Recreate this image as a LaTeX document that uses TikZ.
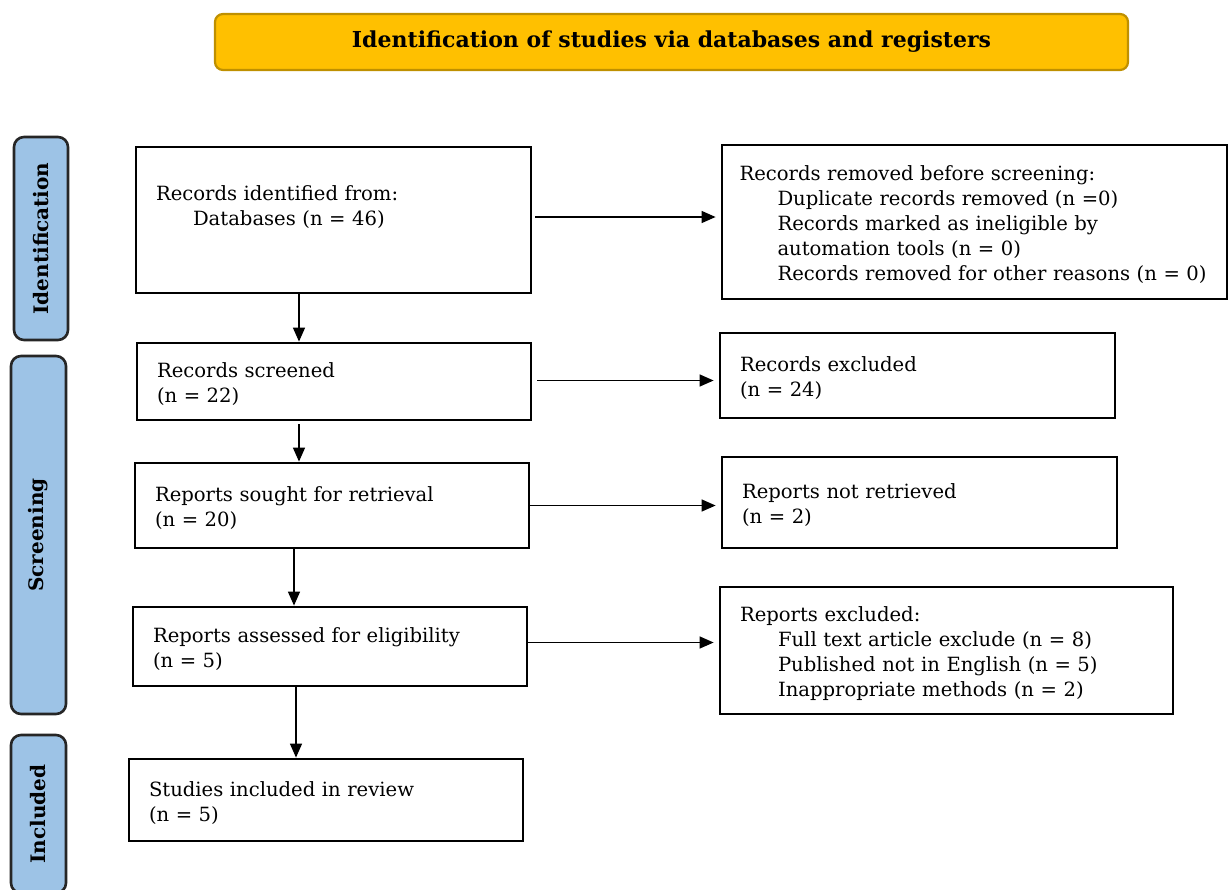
\documentclass[tikz,border=0pt]{standalone}
\usepackage{fontspec}
\setmainfont{DejaVu Serif}
\usepackage{tikz}
\usetikzlibrary{arrows.meta,positioning}
\definecolor{titlefill}{HTML}{FFC000}
\definecolor{titledraw}{HTML}{BF9000}
\definecolor{phasefill}{HTML}{9DC3E6}
\tikzset{>={Triangle[length=14pt,width=12pt]}}
\tikzset{
    stagebox/.style={rectangle,draw,line width=2.8pt,inner xsep=20pt,inner ysep=0pt,align=left,
        font=\fontsize{19.6}{25}\selectfont,execute at begin node={\rule{0pt}{21pt}}},
    titlebox/.style={rectangle,rounded corners=8pt,draw=titledraw,fill=titlefill,line width=2.2pt,
        font=\bfseries\fontsize{22}{26}\selectfont},
    phase/.style={rectangle,rounded corners=10pt,draw=black!85,fill=phasefill,line width=2.6pt,
        rotate=90,font=\bfseries\fontsize{20}{24}\selectfont},
    flow/.style={->,line width=1.4pt},
    flowh/.style={flow,shorten >=5pt},
}
\newcommand{\ind}{\hspace*{38pt}}
\begin{document}
\begin{tikzpicture}[x=1pt,y=-1pt]
    \useasboundingbox (0,0) rectangle (1229,889);

    \node[titlebox,minimum width=913pt,minimum height=56pt] (title) at (671.5,42) {Identification of studies via databases and registers};

    \node[phase,minimum width=203pt,minimum height=54pt] (pident) at (41,238.5) {Identification};
    \node[phase,minimum width=358pt,minimum height=55pt] (pscreen) at (38.5,535) {Screening};
    \node[phase,minimum width=158pt,minimum height=55pt] (pincl) at (38.5,814) {Included};

    \node[stagebox,text width=355pt,minimum height=146pt] (ident) at (333.5,220)
        {Records identified from:\\\hspace*{37pt}Databases (n = 46)\rule[-35pt]{0pt}{0pt}};
    \node[stagebox,text width=354pt,minimum height=77pt] (screen) at (334,381.5)
        {Records screened\\(n = 22)};
    \node[stagebox,text width=354pt,minimum height=85pt] (sought) at (332,505.5)
        {Reports sought for retrieval\\(n = 20)};
    \node[stagebox,text width=354pt,minimum height=79pt] (assess) at (330,646.5)
        {Reports assessed for eligibility\\(n = 5)};
    \node[stagebox,text width=354pt,minimum height=82pt] (incl) at (326,800)
        {Studies included in review\\(n = 5)};

    \node[stagebox,text width=470pt,minimum height=154pt,inner xsep=17.5pt] (removed) at (974.5,222)
        {Records removed before screening:\\\ind Duplicate records removed (n =0)\\\ind Records marked as ineligible by\\\ind automation tools (n = 0)\\\ind Records removed for other reasons (n = 0)};
    \node[stagebox,text width=355pt,minimum height=85pt] (excl) at (917.5,375.5)
        {Records excluded\\(n = 24)};
    \node[stagebox,text width=355pt,minimum height=91pt] (notret) at (919.5,502.5)
        {Reports not retrieved\\(n = 2)};
    \node[stagebox,text width=413pt,minimum height=127pt] (repexcl) at (946.5,650.5)
        {Reports excluded:\\\ind Full text article exclude (n = 8)\\\ind Published not in English (n = 5)\\\ind Inappropriate methods (n = 2)};

    \draw[flow] ([xshift=-34.5pt]ident.south) -- ([xshift=-34.5pt]ident.south |- screen.north);
    \draw[flow] ([xshift=-35pt,yshift=-3pt]screen.south) -- ([xshift=-35pt]screen.south |- sought.north);
    \draw[flow] ([xshift=-38pt]sought.south) -- ([xshift=-38pt]sought.south |- assess.north);
    \draw[flow] ([xshift=-34pt]assess.south) -- ([xshift=-34pt]assess.south |- incl.north);

    \draw[flowh] ([xshift=3pt,yshift=3pt]ident.east) -- ([yshift=3pt]ident.east -| removed.west);
    \draw[flowh] ([xshift=5pt,yshift=1pt]screen.east) -- ([yshift=1pt]screen.east -| excl.west);
    \draw[flowh] (sought.east) -- (sought.east -| notret.west);
    \draw[flowh] ([yshift=4pt]assess.east) -- ([yshift=4pt]assess.east -| repexcl.west);
\end{tikzpicture}
\end{document}
